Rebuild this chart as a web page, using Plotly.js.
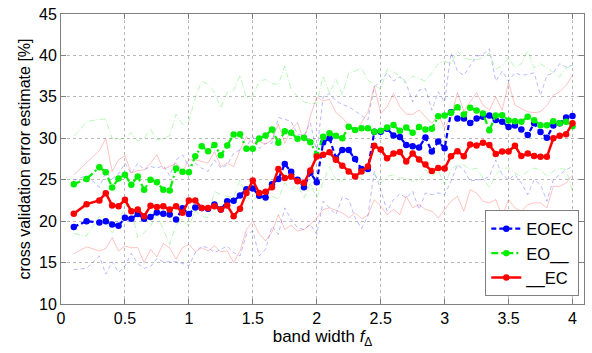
<!DOCTYPE html>
<html>
<head>
<meta charset="utf-8">
<script src="https://cdn.plot.ly/plotly-3.0.1.min.js"></script>
<style>html,body{margin:0;padding:0;background:#fff;}#chart{width:592px;height:353px;}</style>
</head>
<body>
<div id="chart"></div>
<script>
const bandWidth = [0.1,0.2,0.3,0.35,0.4,0.45,0.5,0.55,0.6,0.65,0.7,0.75,0.8,0.85,0.9,0.95,1.0,1.05,1.1,1.15,1.2,1.25,1.3,1.35,1.4,1.45,1.5,1.55,1.6,1.65,1.7,1.75,1.8,1.85,1.9,1.95,2.0,2.05,2.1,2.15,2.2,2.25,2.3,2.35,2.4,2.45,2.5,2.55,2.6,2.65,2.7,2.75,2.8,2.85,2.9,2.95,3.0,3.05,3.1,3.15,3.2,3.25,3.3,3.35,3.4,3.45,3.5,3.55,3.6,3.65,3.7,3.75,3.8,3.85,3.9,3.95,4.0];

const seriesNames = ["EOEC", "EO__", "__EC"];

const eoec = [19.3,20.0,19.85,20.0,19.6,19.45,20.4,20.3,20.85,20.3,20.5,21.05,20.9,20.8,20.2,21.55,20.85,21.65,21.6,21.5,22.0,21.4,22.4,22.45,23.1,23.85,23.95,23.05,22.85,24.45,25.1,26.9,25.95,25.0,24.1,25.85,24.7,29.5,30.0,27.6,28.6,28.6,27.5,26.3,26.3,30.8,30.8,31.15,30.35,30.15,29.2,29.05,28.9,30.1,28.4,29.6,28.8,33.15,32.4,32.4,31.85,32.4,32.6,32.75,32.2,32.0,31.35,31.55,31.05,30.4,31.8,30.75,30.05,31.55,31.8,32.5,32.7];

const eo = [24.46,25.1,26.5,25.9,24.06,25.14,25.6,24.38,25.4,23.78,25.0,24.7,23.78,23.7,26.35,25.95,25.9,27.84,29.05,28.45,29.2,27.96,29.13,30.46,30.5,28.73,28.73,29.98,30.34,31.06,29.45,30.86,30.66,29.94,30.06,29.53,28.0,30.2,30.6,30.3,30.0,31.4,31.0,31.2,31.2,30.8,30.9,31.3,31.6,30.9,31.3,30.66,31.35,31.06,31.15,32.66,32.75,33.08,33.76,32.87,33.68,33.35,32.99,30.98,32.75,32.79,32.15,32.07,31.99,32.6,32.19,31.58,31.58,32.07,31.8,31.99,31.46];

const ec = [20.88,22.05,22.5,23.37,21.9,21.8,22.57,21.2,21.4,20.6,21.85,21.7,21.8,21.4,21.8,21.0,22.5,22.5,21.6,21.6,21.8,21.4,21.9,20.6,21.5,23.4,24.9,23.4,23.55,24.1,26.3,25.2,25.4,24.8,24.6,26.1,27.8,28.0,28.3,27.4,26.7,26.0,25.4,26.0,26.6,29.1,28.65,27.6,28.15,28.35,27.2,28.16,27.45,26.85,26.05,26.4,26.35,27.84,28.45,27.84,29.25,29.13,29.45,29.2,28.1,28.4,28.4,29.1,27.85,28.15,27.85,27.76,27.76,30.0,30.3,30.5,31.8];

// faint upper / lower bounds
const eoecUpper = [24.9,25.5,24.1,25.9,25.1,25.7,27.0,25.7,27.0,26.2,26.6,26.4,26.7,25.5,27.4,28.0,26.6,27.0,26.4,26.0,27.4,26.4,26.8,28.2,28.6,29.0,30.2,28.8,29.4,29.4,32.5,32.3,32.0,30.5,30.3,31.9,28.3,35.0,35.4,34.5,34.1,33.8,33.3,32.7,32.2,36.2,36.9,37.9,36.9,37.4,36.6,34.4,35.8,36.0,33.4,35.6,34.4,40.3,38.1,37.6,38.8,39.9,40.1,40.8,36.9,38.1,36.9,37.9,37.6,37.7,37.9,35.2,37.6,37.9,39.0,38.6,38.8];
const eoecLower = [14.15,14.3,15.8,13.6,15.1,13.8,14.6,16.1,14.9,14.3,14.5,15.5,15.1,15.1,15.1,14.9,14.6,16.2,17.0,16.8,16.2,16.6,17.0,16.2,15.8,18.4,18.8,15.8,16.6,19.4,18.4,21.6,20.2,19.2,19.0,19.6,18.4,22.4,21.6,20.8,22.9,22.6,20.4,19.1,20.6,26.0,23.8,21.2,22.6,23.3,22.8,23.6,21.4,23.4,23.2,23.4,23.2,24.8,26.8,26.2,24.8,25.0,25.0,25.4,27.4,25.6,25.0,25.6,24.6,23.2,25.0,24.4,22.4,25.0,25.6,26.2,26.6];
const eoUpper = [30.2,32.0,32.3,32.3,30.0,29.9,30.0,30.7,29.65,30.0,31.1,29.8,30.0,30.3,32.9,31.7,32.1,34.9,36.9,36.5,35.5,33.7,35.5,35.8,37.6,34.9,35.1,36.9,37.1,36.6,36.5,38.7,35.9,35.0,34.4,34.2,34.2,37.5,35.4,37.1,35.3,37.9,38.1,38.5,37.0,36.4,35.9,38.3,38.0,37.5,36.8,37.5,37.2,36.9,37.9,39.0,39.3,39.0,40.5,39.7,39.5,39.5,39.7,40.3,38.3,38.8,39.7,38.5,39.0,40.6,38.5,39.0,38.5,37.9,37.4,38.5,38.8];
const eoLower = [18.5,18.2,20.6,19.8,18.6,19.6,22.0,21.4,18.0,18.6,19.4,20.8,19.0,17.2,19.6,20.2,19.4,21.2,20.6,20.4,23.6,23.2,23.0,22.8,25.0,22.9,22.6,23.0,22.4,23.0,22.7,24.6,23.8,24.4,22.8,24.6,22.8,24.6,26.6,25.0,24.8,26.0,25.4,25.2,26.2,25.6,24.6,25.4,25.6,25.2,25.2,24.8,24.9,26.2,25.4,26.2,24.4,26.2,26.8,26.8,26.2,26.4,25.2,24.0,25.6,26.4,26.4,25.8,25.4,26.0,26.4,26.2,25.4,26.0,26.4,26.2,23.6];
const ecUpper = [25.6,27.0,28.5,30.0,26.0,27.4,27.9,25.8,26.1,26.2,27.0,28.0,26.3,26.6,27.0,26.0,27.4,27.4,27.2,27.0,28.4,26.6,27.0,26.6,28.6,30.2,29.4,29.6,29.3,29.8,31.7,29.4,31.0,31.9,29.6,32.7,35.0,34.5,34.7,33.1,32.5,31.5,30.9,31.9,33.1,36.3,33.0,33.8,35.4,33.8,32.9,32.9,33.4,32.6,31.8,32.9,31.2,32.5,35.5,33.3,34.4,35.5,34.0,33.4,35.0,33.4,36.7,34.0,33.6,33.2,33.1,33.2,34.0,35.2,35.6,36.4,37.6];
const ecLower = [16.05,16.9,16.4,16.7,18.0,16.4,17.0,16.8,16.8,15.0,16.6,15.7,17.3,16.8,15.4,16.8,17.2,16.3,16.8,16.4,17.0,16.3,16.4,15.0,16.4,19.0,20.0,18.5,17.6,18.7,20.8,19.0,19.5,18.8,19.0,19.6,20.4,21.4,21.6,21.3,21.0,20.4,21.0,20.3,20.7,22.6,21.8,20.8,21.4,20.8,23.0,21.6,22.0,21.4,21.2,20.4,21.4,22.4,23.0,21.2,23.8,23.4,22.4,22.2,22.6,20.6,22.6,21.6,21.2,22.0,22.2,22.2,21.6,24.2,24.2,24.6,25.6];

const xTicks = [0,0.5,1,1.5,2,2.5,3,3.5,4];
const yTicks = [10,15,20,25,30,35,40,45];

const FONT = "Liberation Sans, Arial, sans-serif";

function faint(y, color, dash) {
  return {x: bandWidth, y: y, type: "scatter", mode: "lines", showlegend: false,
    hoverinfo: "skip", line: {color: color, width: 0.8, dash: dash}};
}
function main(y, name, color, dash, width) {
  return {x: bandWidth, y: y, name: name, type: "scatter", mode: "lines+markers",
    line: {color: color, width: width, dash: dash},
    marker: {color: color, size: 6.5, symbol: "circle"}};
}

const traces = [
  faint(eoecUpper, "rgba(0,0,255,0.35)", "4px,3px"),
  faint(eoecLower, "rgba(0,0,255,0.35)", "4px,3px"),
  faint(eoUpper, "rgba(0,230,0,0.35)", "6px,2px,1px,2px"),
  faint(eoLower, "rgba(0,230,0,0.35)", "6px,2px,1px,2px"),
  faint(ecUpper, "rgba(255,0,0,0.3)", "solid"),
  faint(ecLower, "rgba(255,0,0,0.3)", "solid"),
  main(eoec, seriesNames[0], "#0000ff", "5px,3px", 2.2),
  main(eo, seriesNames[1], "#00ee00", "7px,3px,2px,3px", 2.2),
  main(ec, seriesNames[2], "#ff0000", "solid", 2.5)
];

const axisCommon = {
  showline: true, mirror: "ticks", linecolor: "#7f7f7f", linewidth: 1,
  ticks: "inside", ticklen: 5, tickcolor: "#7f7f7f",
  showgrid: true, gridcolor: "#b8b8b8", griddash: "dot", gridwidth: 1,
  zeroline: false, tickfont: {family: FONT, size: 16, color: "#000"}
};

const layout = {
  width: 592, height: 353,
  margin: {l: 60.5, r: 7.5, t: 14, b: 48.5},
  paper_bgcolor: "#fff", plot_bgcolor: "#fff",
  font: {family: FONT, size: 16, color: "#000"},
  xaxis: Object.assign({}, axisCommon, {
    range: [0, 4.09], tickvals: xTicks, ticktext: xTicks.map(String),
    title: {text: "band width <i>f</i><sub>Δ</sub>", font: {family: FONT, size: 17}, standoff: 3}
  }),
  yaxis: Object.assign({}, axisCommon, {
    range: [10, 45], tickvals: yTicks, ticktext: yTicks.map(String),
    title: {text: "cross validation error estimate [%]", font: {family: FONT, size: 16}, standoff: 4}
  }),
  legend: {
    x: 0.991, y: 0.026, xanchor: "right", yanchor: "bottom",
    bgcolor: "#fff", bordercolor: "#7f7f7f", borderwidth: 1,
    font: {family: FONT, size: 16.5, color: "#000"},
    itemwidth: 30, tracegroupgap: 0
  },
  showlegend: true
};

Plotly.newPlot("chart", traces, layout, {displayModeBar: false, staticPlot: true});
</script>
</body>
</html>
